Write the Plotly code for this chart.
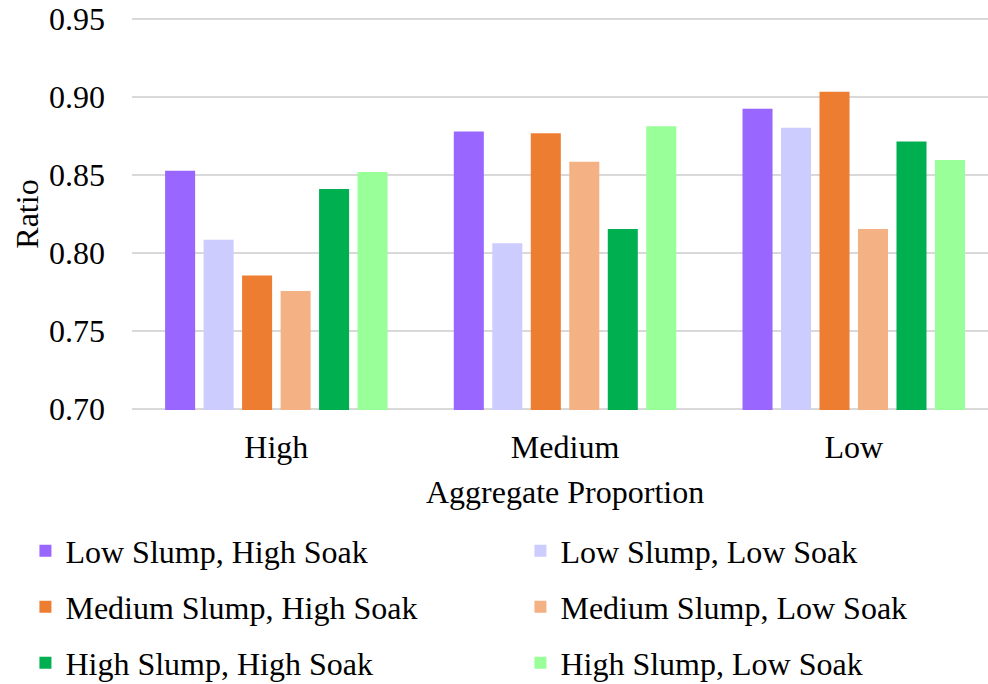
import plotly.graph_objects as go

categories = ["High", "Medium", "Low"]
series_names = [
    "Low Slump, High Soak",
    "Low Slump, Low Soak",
    "Medium Slump, High Soak",
    "Medium Slump, Low Soak",
    "High Slump, High Soak",
    "High Slump, Low Soak",
]
low_slump_high_soak = [0.8528, 0.8780, 0.8926]
low_slump_low_soak = [0.8085, 0.8063, 0.8803]
medium_slump_high_soak = [0.7855, 0.8769, 0.9035]
medium_slump_low_soak = [0.7755, 0.8585, 0.8154]
high_slump_high_soak = [0.8410, 0.8154, 0.8716]
high_slump_low_soak = [0.8519, 0.8814, 0.8596]
colors = ["#9966FF", "#CCCCFF", "#ED7D31", "#F4B183", "#00B050", "#99FF99"]
y_ticks = [0.70, 0.75, 0.80, 0.85, 0.90, 0.95]
x_title = "Aggregate Proportion"
y_title = "Ratio"

values = [low_slump_high_soak, low_slump_low_soak, medium_slump_high_soak,
          medium_slump_low_soak, high_slump_high_soak, high_slump_low_soak]
legend_ids = ["legend", "legend", "legend2", "legend2", "legend3", "legend3"]

FONT = "Liberation Serif, Times New Roman, serif"

fig = go.Figure()
for name, vals, col, lg in zip(series_names, values, colors, legend_ids):
    fig.add_trace(go.Bar(
        x=categories, y=vals, name=name,
        marker=dict(color=col, line=dict(width=0)),
        legend=lg,
    ))

legend_common = dict(
    orientation="h", xanchor="left", yanchor="middle", x=-0.1245,
    entrywidth=450, entrywidthmode="pixels",
    font=dict(family=FONT, size=32, color="black"),
    bgcolor="rgba(0,0,0,0)", itemclick=False,
)

fig.update_layout(
    width=988, height=684,
    margin=dict(l=132, r=0, t=18, b=274, autoexpand=False),
    paper_bgcolor="white", plot_bgcolor="white",
    font=dict(family=FONT, size=32, color="black"),
    barmode="group", bargap=0.2, bargroupgap=0.22,
    showlegend=True,
    legend=dict(y=-0.3596, **legend_common),
    legend2=dict(y=-0.5026, **legend_common),
    legend3=dict(y=-0.6452, **legend_common),
    xaxis=dict(
        range=[-0.5, 2.465], showgrid=False, showline=False, ticks="",
        ticklabelstandoff=15,
        tickfont=dict(family=FONT, size=32, color="black"),
        automargin=False,
    ),
    yaxis=dict(
        range=[0.6992, 0.9508], tickvals=y_ticks, tickformat=".2f",
        showgrid=True, gridcolor="#d9d9d9", gridwidth=1.5,
        zeroline=False, showline=False, ticks="",
        ticklabelstandoff=26,
        tickfont=dict(family=FONT, size=32, color="black"),
        title=dict(text=y_title, standoff=0,
                   font=dict(family=FONT, size=32, color="black")),
        automargin=False,
    ),
    annotations=[dict(
        text=x_title, xref="paper", yref="paper", x=0.5058, y=-0.2092,
        xanchor="center", yanchor="middle", showarrow=False,
        font=dict(family=FONT, size=32, color="black"),
    )],
)

fig.write_html("out.html", config={"displayModeBar": False},
               post_script="document.body.style.margin='0';")
